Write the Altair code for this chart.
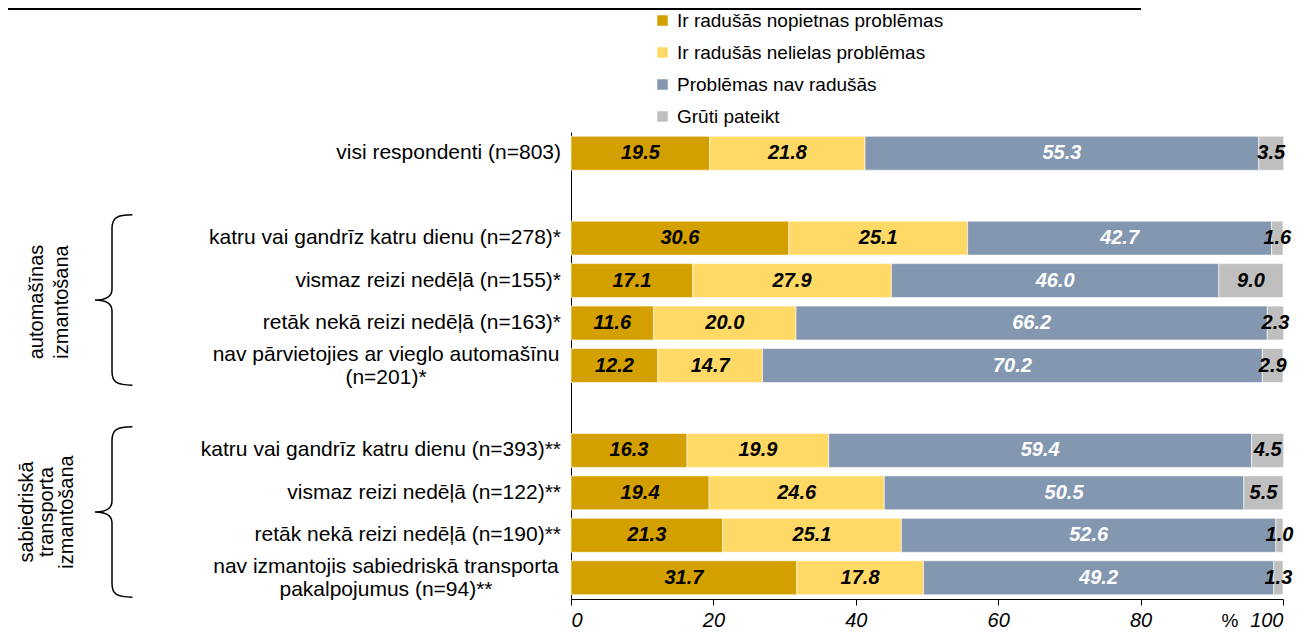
import altair as alt
import pandas as pd

row_labels = [
    "visi respondenti (n=803)",
    "katru vai gandrīz katru dienu (n=278)*",
    "vismaz reizi nedēļā (n=155)*",
    "retāk nekā reizi nedēļā (n=163)*",
    "nav pārvietojies ar vieglo automašīnu\n(n=201)*",
    "katru vai gandrīz katru dienu (n=393)**",
    "vismaz reizi nedēļā (n=122)**",
    "retāk nekā reizi nedēļā (n=190)**",
    "nav izmantojis sabiedriskā transporta\npakalpojumus (n=94)**",
]
series = [
    "Ir radušās nopietnas problēmas",
    "Ir radušās nelielas problēmas",
    "Problēmas nav radušās",
    "Grūti pateikt",
]
colors = ["#D4A000", "#FFD966", "#8497B0", "#BFBFBF"]
serious = [19.5, 30.6, 17.1, 11.6, 12.2, 16.3, 19.4, 21.3, 31.7]
minor = [21.8, 25.1, 27.9, 20.0, 14.7, 19.9, 24.6, 25.1, 17.8]
none_ = [55.3, 42.7, 46.0, 66.2, 70.2, 59.4, 50.5, 52.6, 49.2]
hard = [3.5, 1.6, 9.0, 2.3, 2.9, 4.5, 5.5, 1.0, 1.3]
group_labels = ["automašīnas\nizmantošana", "sabiedriskā\ntransporta\nizmantošana"]
x_ticks = [0, 20, 40, 60, 80, 100]

domain_rows = [row_labels[0], "gap1"] + row_labels[1:5] + ["gap2"] + row_labels[5:9]

records = []
for i, lab in enumerate(row_labels):
    for k, vals in enumerate([serious, minor, none_, hard]):
        records.append({"row": lab, "series": series[k], "order": k, "value": vals[i]})
df = pd.DataFrame(records)

FONT = "Liberation Sans, Arial, sans-serif"
yscale = alt.Scale(domain=domain_rows, paddingInner=0.2, paddingOuter=0.1)
xscale = alt.Scale(domain=[0, 100], nice=False)

bars = alt.Chart(df).mark_bar(stroke="white", strokeWidth=0.6).encode(
    x=alt.X("value:Q", stack="zero", scale=xscale,
            axis=alt.Axis(values=x_ticks, title=None, grid=False, domainColor="black",
                          tickColor="black", tickSize=6, labelFont=FONT, labelFontSize=20,
                          labelFontStyle="italic", labelColor="black", labelPadding=5)),
    y=alt.Y("row:N", scale=yscale, sort=domain_rows,
            axis=alt.Axis(labels=False, ticks=False, title=None, grid=False, domainColor="black")),
    color=alt.Color("series:N", scale=alt.Scale(domain=series, range=colors),
                    legend=alt.Legend(orient="none", legendX=82, legendY=-121, title=None,
                                      symbolType="square", symbolSize=110, symbolStrokeWidth=0,
                                      labelFont=FONT, labelFontSize=19, labelColor="black",
                                      labelLimit=500, rowPadding=12, labelOffset=5, padding=0)),
    order=alt.Order("order:Q"),
)

values = alt.Chart(df).transform_stack(
    stack="value", as_=["x0", "x1"], groupby=["row"], sort=[alt.SortField("order")]
).transform_calculate(
    mid="(datum.x0 + datum.x1) / 2"
).mark_text(font="Liberation Sans Narrow, Liberation Sans, Arial", fontSize=20,
            fontWeight="bold", fontStyle="italic", baseline="middle", align="center").encode(
    x=alt.X("mid:Q", scale=xscale),
    y=alt.Y("row:N", scale=yscale, sort=domain_rows),
    text=alt.Text("value:Q", format=".1f"),
    color=alt.condition(alt.datum.series == series[2], alt.value("white"), alt.value("black")),
)

single = [l for l in row_labels if "\n" not in l]
multi = [l for l in row_labels if "\n" in l]

lab1 = alt.Chart(pd.DataFrame({"row": single})).mark_text(
    align="right", baseline="middle", font=FONT, fontSize=21, color="black"
).encode(x=alt.value(-10), y=alt.Y("row:N", scale=yscale, sort=domain_rows), text="row:N")

lab2 = alt.Chart(pd.DataFrame({"row": multi})).mark_text(
    align="center", baseline="middle", font=FONT, fontSize=21, color="black",
    lineBreak="\n", lineHeight=23, dy=-11
).encode(x=alt.value(-185), y=alt.Y("row:N", scale=yscale, sort=domain_rows), text="row:N")

g1 = alt.Chart(pd.DataFrame({"t": [group_labels[0]]})).mark_text(
    angle=270, align="center", baseline="middle", font=FONT, fontSize=20, color="black",
    lineBreak="\n", lineHeight=25
).encode(x=alt.value(-534), y=alt.value(170), text="t:N")

g2 = alt.Chart(pd.DataFrame({"t": [group_labels[1]]})).mark_text(
    angle=270, align="center", baseline="middle", font=FONT, fontSize=20, color="black",
    lineBreak="\n", lineHeight=20
).encode(x=alt.value(-544), y=alt.value(380), text="t:N")

brace_path = ("M0.24,-1 C0.06,-1 0,-0.97 0,-0.84 L0,-0.13 C0,-0.04 -0.08,0 -0.2,0 "
              "C-0.08,0 0,0.04 0,0.13 L0,0.84 C0,0.97 0.06,1 0.24,1")
braces = alt.Chart(pd.DataFrame({"b": ["a", "b"], "yy": [168, 380]})).mark_point(
    shape=brace_path, size=29000, filled=False, stroke="black", strokeWidth=1.5, opacity=1
).encode(x=alt.value(-459), y=alt.Y("yy:Q", scale=None))

pct = alt.Chart(pd.DataFrame({"t": ["%"]})).mark_text(
    font=FONT, fontSize=19, color="black", baseline="middle", align="center"
).encode(x=alt.value(659), y=alt.value(489), text="t:N")

topline = alt.Chart(pd.DataFrame({"t": [0]})).mark_rule(color="black", strokeWidth=2).encode(
    x=alt.value(-563), x2=alt.value(570), y=alt.value(-123)
)

chart = alt.layer(bars, values, lab1, lab2, g1, g2, braces, pct, topline).properties(
    width=712, height=467,
    autosize=alt.AutoSizeParams(type="none"),
    padding={"left": 563, "top": 124, "right": 25, "bottom": 33},
).configure_view(stroke=None)

chart.save("out.html", embed_options={"renderer": "svg", "actions": False})
